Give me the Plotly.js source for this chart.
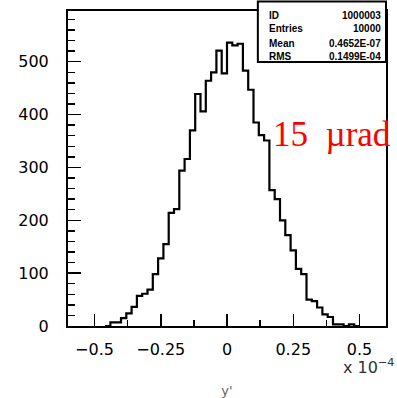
<!DOCTYPE html>
<html>
<head>
<meta charset="utf-8">
<script src="https://cdn.plot.ly/plotly-3.0.1.min.js"></script>
<style>html,body{margin:0;padding:0;background:#fff;}#plot{width:397px;height:398px;}</style>
</head>
<body>
<div id="plot"></div>
<script>
// bin lower edges (units of 1e-4 rad) and counts
const binLow = [-0.46,-0.44,-0.42,-0.40,-0.38,-0.36,-0.34,-0.32,-0.30,-0.28,-0.26,-0.24,-0.22,-0.20,-0.18,-0.16,-0.14,-0.12,-0.10,-0.08,-0.06,-0.04,-0.02,0.00,0.02,0.04,0.06,0.08,0.10,0.12,0.14,0.16,0.18,0.20,0.22,0.24,0.26,0.28,0.30,0.32,0.34,0.36,0.38,0.40,0.42,0.44,0.46,0.48];
const counts = [0,7,7,15,24,36,57,61,69,98,128,155,214,221,294,316,370,439,406,464,480,521,478,536,531,534,483,447,385,361,351,257,240,200,172,143,108,98,50,47,35,22,17,3,3,0,3,0];
const binWidth = 0.02;
const xTickVals = [-0.5,-0.25,0,0.25,0.5];
const xTickText = ["\u22120.5","\u22120.25","0","0.25","0.5"];
const statLabels = ["ID","Entries","Mean","RMS"];
const statValues = ["1000003","10000","0.4652E-07","0.1499E-04"];
const noteText = "15\u00a0\u00a0\u00b5rad";

// step outline from bins
const xs = binLow.concat([binLow[binLow.length-1] + binWidth]);
const ys = counts.concat([counts[counts.length-1]]);

const trace = {
  type: 'scatter', mode: 'lines',
  x: xs, y: ys,
  line: {shape: 'hv', color: '#000', width: 2.2},
  hoverinfo: 'skip'
};

const tickFont = {family: 'DejaVu Sans', size: 16, color: '#000'};
const rowY = [0.987, 0.943, 0.898, 0.854];
const annotations = [];
statLabels.forEach((s, i) => {
  annotations.push({xref:'paper', yref:'paper', x:0.626, y:rowY[i], xanchor:'left', yanchor:'middle',
    text:'<b>'+s+'</b>', showarrow:false, font:{family:'Liberation Sans', size:10, color:'#000'}});
  annotations.push({xref:'paper', yref:'paper', x:0.991, y:rowY[i], xanchor:'right', yanchor:'middle',
    text:'<b>'+statValues[i]+'</b>', showarrow:false, font:{family:'Liberation Sans', size:10, color:'#000'}});
});
annotations.push({xref:'paper', yref:'paper', x:0.637, y:0.608, xanchor:'left', yanchor:'middle',
  text: noteText, showarrow:false, font:{family:'Liberation Serif', size:35, color:'#ff0000'}});
annotations.push({xref:'paper', yref:'paper', x:1.033, y:-0.13, xanchor:'right', yanchor:'middle',
  text:'x 10<sup>\u22124</sup>', showarrow:false, font:{family:'DejaVu Sans', size:16, color:'#333'}});

const layout = {
  width: 397, height: 398,
  margin: {l: 68, r: 11, t: 11, b: 72},
  paper_bgcolor: '#fff', plot_bgcolor: '#fff',
  showlegend: false,
  xaxis: {
    range: [-0.6, 0.6], tickvals: xTickVals, ticktext: xTickText,
    ticks: 'inside', ticklen: 12, tickwidth: 1.5, tickcolor: '#000',
    minor: {dtick: 0.125, tick0: 0, ticks: 'inside', ticklen: 6, tickwidth: 1.5, tickcolor: '#000', showgrid: false},
    showline: true, mirror: true, linecolor: '#000', linewidth: 2,
    showgrid: false, zeroline: false,
    tickfont: tickFont, ticklabelstandoff: 8,
    title: {text: "y'", font: {family: 'DejaVu Sans', size: 13, color: '#666'}, standoff: 30}
  },
  yaxis: {
    range: [0, 596], dtick: 100, tick0: 0,
    ticks: 'inside', ticklen: 13, tickwidth: 1.5, tickcolor: '#000',
    minor: {dtick: 20, ticks: 'inside', ticklen: 7, tickwidth: 1.5, tickcolor: '#000', showgrid: false},
    showline: true, mirror: true, linecolor: '#000', linewidth: 2,
    showgrid: false, zeroline: false,
    tickfont: tickFont, ticklabelstandoff: 14
  },
  shapes: [{type:'rect', xref:'paper', yref:'paper', x0:0.597, x1:1.0, y0:0.838, y1:1.03,
    line:{color:'#000', width:2}, fillcolor:'#fff', layer:'above'}],
  annotations: annotations
};

Plotly.newPlot('plot', [trace], layout, {staticPlot: true, displayModeBar: false});
</script>
</body>
</html>
